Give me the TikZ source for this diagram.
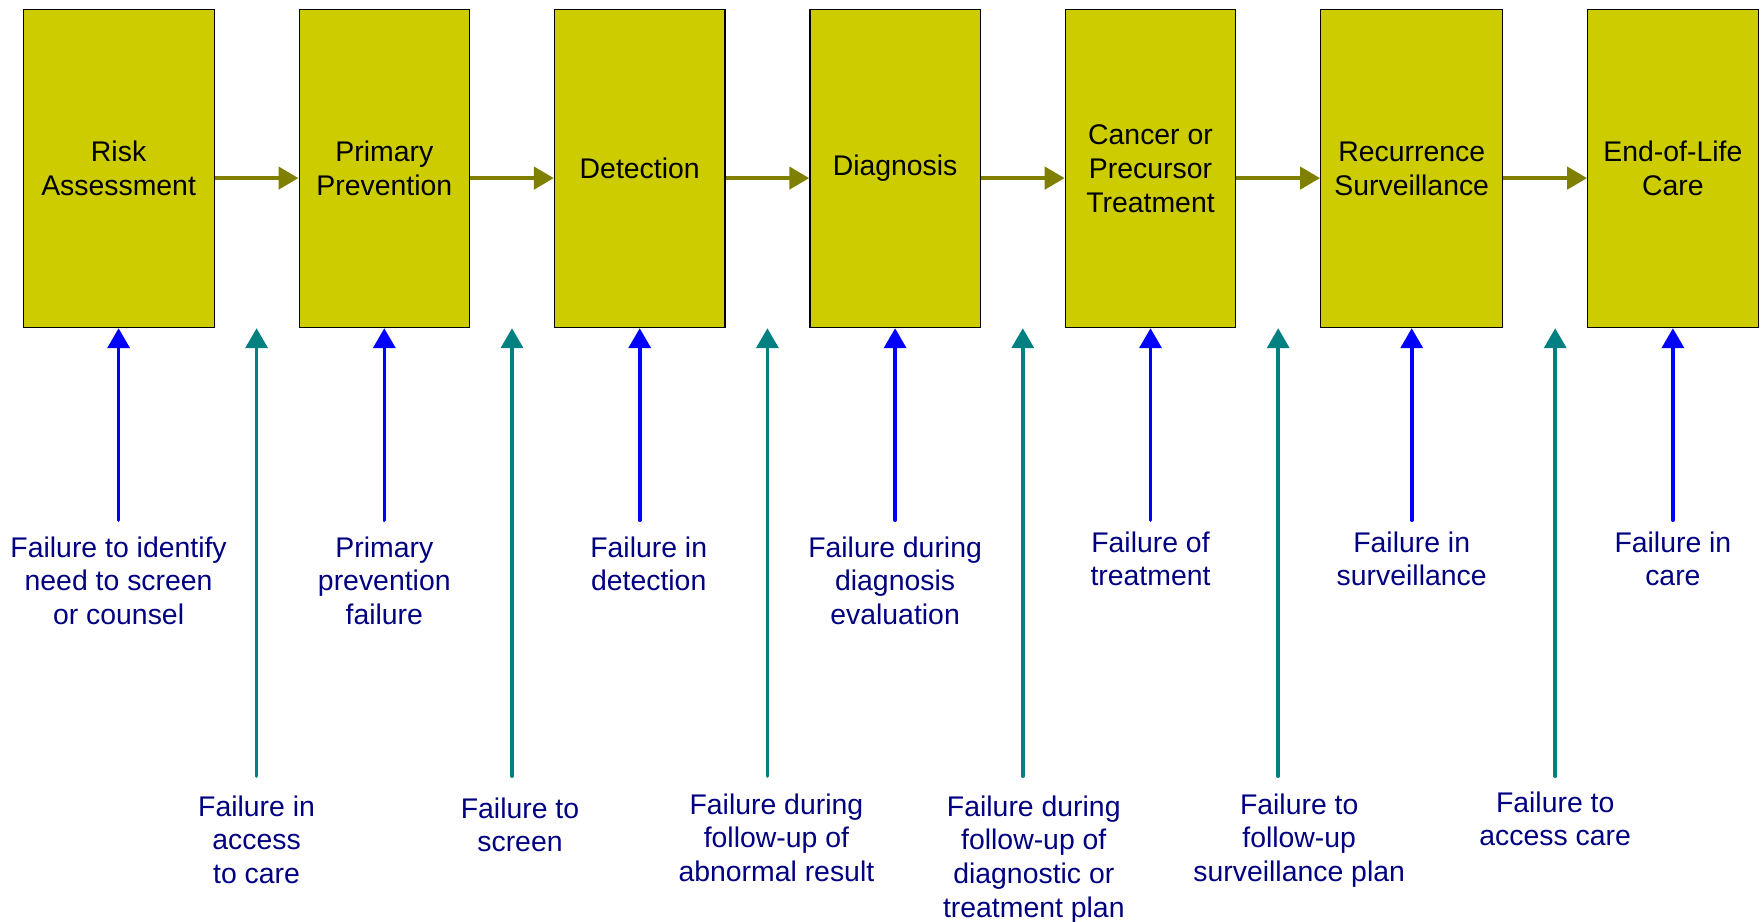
\documentclass[tikz,border=0pt]{standalone}
\usepackage{fontspec}
\setmainfont{Liberation Sans}
\usetikzlibrary{arrows.meta,positioning,calc}

\definecolor{stagefill}{HTML}{CCCC00}
\definecolor{flowcol}{HTML}{808000}
\definecolor{incol}{HTML}{0000FF}
\definecolor{gapcol}{HTML}{008080}
\definecolor{failcol}{HTML}{000080}

\begin{document}
\begin{tikzpicture}[
  x=0.5pt, y=-0.5pt,
  >={Triangle[length=10pt,width=11pt]},
  every node/.style={font=\fontsize{14.2}{16.85}\selectfont},
  stage/.style={draw, line width=0.6pt, fill=stagefill, minimum width=85.2pt,
    minimum height=159pt, align=center, inner sep=0pt},
  flow/.style={->, flowcol, line width=2.2pt},
  inarrow/.style={->, incol, line width=1.8pt, line cap=round},
  gaparrow/.style={->, gapcol, line width=1.8pt, line cap=round},
  fail/.style={failcol, align=center, inner sep=0pt},
  node distance=41.9pt
]
\useasboundingbox (0,0) rectangle (1761,921);

% Stages of care
\node[stage, minimum width=95.5pt, anchor=north west] (risk) at (22.5,9) {Risk\\Assessment};
\node[stage, right=of risk] (prim) {Primary\\Prevention};
\node[stage, right=of prim] (detect) {Detection};
\node[stage, right=of detect] (diag) {Diagnosis};
\node[stage, right=of diag] (treat) {Cancer or\\Precursor\\Treatment};
\node[stage, right=of treat, minimum width=91pt] (recur) {Recurrence\\Surveillance};
\node[stage, right=of recur] (eol) {End-of-Life\\Care};

% Flow between stages
\draw[flow] ([yshift=-4.75pt]risk.east) -- ([yshift=-4.75pt]prim.west);
\draw[flow] ([yshift=-4.75pt]prim.east) -- ([yshift=-4.75pt]detect.west);
\draw[flow] ([yshift=-4.75pt]detect.east) -- ([yshift=-4.75pt]diag.west);
\draw[flow] ([yshift=-4.75pt]diag.east) -- ([yshift=-4.75pt]treat.west);
\draw[flow] ([yshift=-4.75pt]treat.east) -- ([yshift=-4.75pt]recur.west);
\draw[flow] ([yshift=-4.75pt]recur.east) -- ([yshift=-4.75pt]eol.west);

% Failures within a stage
\coordinate (u1) at ($(risk.south)+(0,-96pt)$);
\coordinate (u2) at ($(prim.south)+(0,-96pt)$);
\coordinate (u3) at ($(detect.south)+(0,-96pt)$);
\coordinate (u4) at ($(diag.south)+(0,-96pt)$);
\coordinate (u5) at ($(treat.south)+(0,-96pt)$);
\coordinate (u6) at ($(recur.south)+(0,-96pt)$);
\coordinate (u7) at ($(eol.south)+(0,-96pt)$);
\draw[inarrow] (u1) -- (risk.south);
\draw[inarrow] (u2) -- (prim.south);
\draw[inarrow] (u3) -- (detect.south);
\draw[inarrow] (u4) -- (diag.south);
\draw[inarrow] (u5) -- (treat.south);
\draw[inarrow] (u6) -- (recur.south);
\draw[inarrow] (u7) -- (eol.south);

\node[fail, below=8pt of u1] (f1) {Failure to identify\\need to screen\\or counsel};
\node[fail, below=8pt of u2] (f2) {Primary\\prevention\\failure};
\node[fail, below=8pt of u3, xshift=4.5pt] (f3) {Failure in\\detection};
\node[fail, below=8pt of u4] (f4) {Failure during\\diagnosis\\evaluation};
\node[fail, below=5.5pt of u5] (f5) {Failure of\\treatment};
\node[fail, below=5.5pt of u6] (f6) {Failure in\\surveillance};
\node[fail, below=5.5pt of u7] (f7) {Failure in\\care};

% Failures in the transitions
\coordinate (m1) at ($(risk.south east)!0.5!(prim.south west)+(0,-224pt)$);
\coordinate (m2) at ($(prim.south east)!0.5!(detect.south west)+(0,-224pt)$);
\coordinate (m3) at ($(detect.south east)!0.5!(diag.south west)+(0,-224pt)$);
\coordinate (m4) at ($(diag.south east)!0.5!(treat.south west)+(0,-224pt)$);
\coordinate (m5) at ($(treat.south east)!0.5!(recur.south west)+(0,-224pt)$);
\coordinate (m6) at ($(recur.south east)!0.5!(eol.south west)+(5pt,-224pt)$);
\draw[gaparrow] (m1) -- (m1 |- risk.south);
\draw[gaparrow] (m2) -- (m2 |- prim.south);
\draw[gaparrow] (m3) -- (m3 |- detect.south);
\draw[gaparrow] (m4) -- (m4 |- diag.south);
\draw[gaparrow] (m5) -- (m5 |- treat.south);
\draw[gaparrow] (m6) -- (m6 |- recur.south);

\node[fail, below=9.5pt of m1] (g1) {Failure in\\access\\to care};
\node[fail, below=10.5pt of m2, xshift=4pt] (g2) {Failure to\\screen};
\node[fail, below=8.5pt of m3, xshift=4.5pt] (g3) {Failure during\\follow-up of\\abnormal result};
\node[fail, below=9.5pt of m4, xshift=5.5pt] (g4) {Failure during\\follow-up of\\diagnostic or\\treatment plan};
\node[fail, below=8.5pt of m5, xshift=10.5pt] (g5) {Failure to\\follow-up\\surveillance plan};
\node[fail, below=7.5pt of m6] (g6) {Failure to\\access care};

\end{tikzpicture}
\end{document}
